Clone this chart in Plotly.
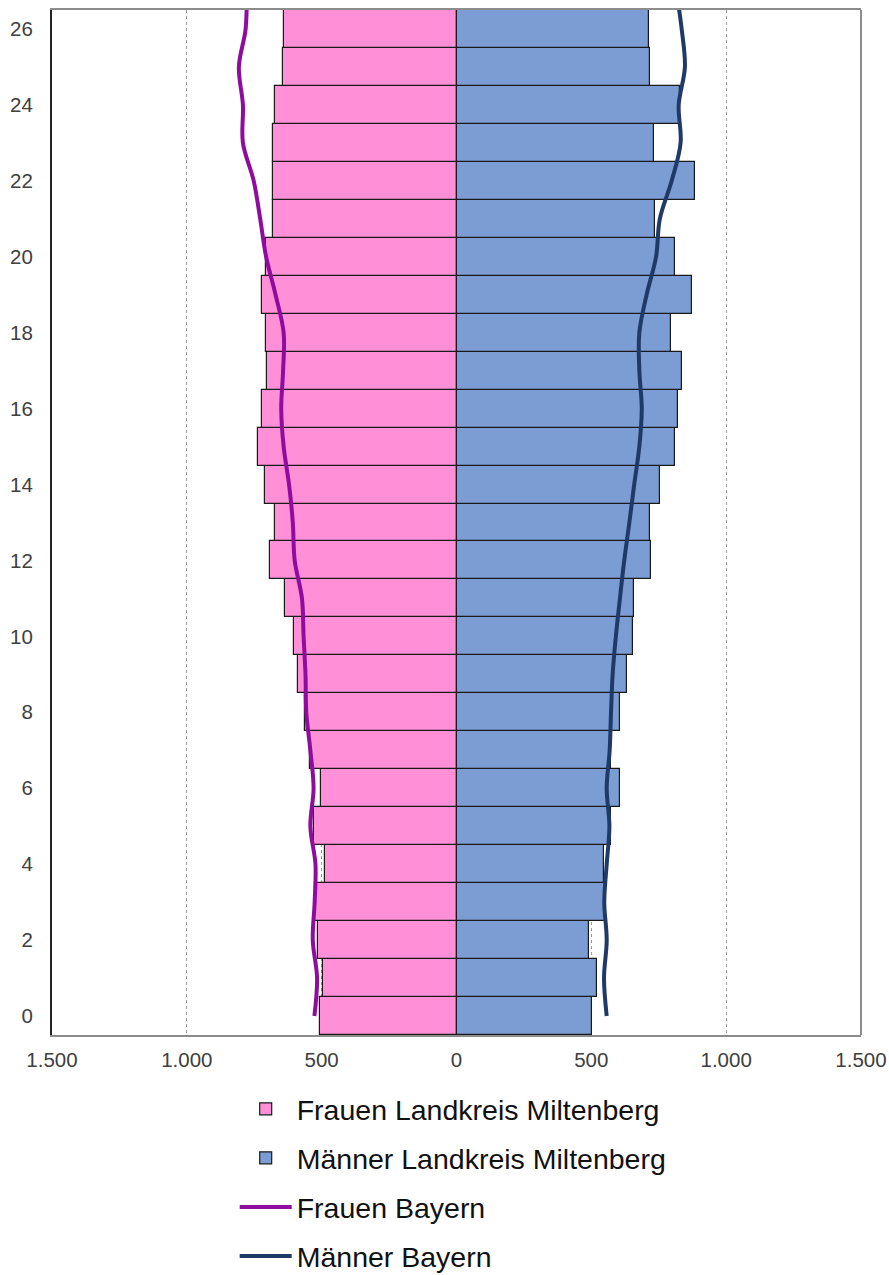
import plotly.graph_objects as go

ages = list(range(0, 27))
frauen_lk = [508, 495, 515, 526, 486, 530, 501, 544, 560, 589, 602, 636, 693, 674, 712,
             737, 722, 702, 707, 722, 708, 680, 679, 679, 674, 645, 641]
maenner_lk = [504, 522, 490, 553, 547, 574, 608, 572, 608, 632, 656, 659, 721, 716, 754,
              811, 821, 836, 796, 874, 811, 737, 883, 731, 829, 717, 712]

ages_by = list(range(0, 28))
frauen_by = [527, 517, 533, 526, 523, 542, 530, 542, 557, 560, 567, 573, 600, 607, 621,
             641, 650, 643, 641, 671, 706, 728, 752, 792, 792, 807, 782, 778]
maenner_by = [557, 547, 557, 548, 557, 567, 557, 568, 573, 579, 591, 606, 622, 641, 659,
              678, 687, 678, 678, 705, 740, 754, 798, 831, 824, 847, 835, 815]

x_tickvals = [-1500, -1000, -500, 0, 500, 1000, 1500]
x_ticktext = ["1.500", "1.000", "500", "0", "500", "1.000", "1.500"]
y_tickvals = list(range(0, 27, 2))

fig = go.Figure()
fig.add_trace(go.Bar(
    y=ages, x=[-v for v in frauen_lk], orientation="h", width=1,
    name="Frauen Landkreis Miltenberg", legendgroup="a",
    marker=dict(color="#FF90D8", line=dict(color="#1a1a1a", width=1.2)),
))
fig.add_trace(go.Bar(
    y=ages, x=maenner_lk, orientation="h", width=1,
    name="Männer Landkreis Miltenberg", legendgroup="b",
    marker=dict(color="#7C9CD4", line=dict(color="#1a1a1a", width=1.2)),
))
fig.add_trace(go.Scatter(
    y=ages_by, x=[-v for v in frauen_by], mode="lines",
    name="Frauen Bayern", legendgroup="c",
    line=dict(color="#900C9E", width=4, shape="spline", smoothing=1.0),
))
fig.add_trace(go.Scatter(
    y=ages_by, x=maenner_by, mode="lines",
    name="Männer Bayern", legendgroup="d",
    line=dict(color="#1F3A68", width=4, shape="spline", smoothing=1.0),
))

fig.update_layout(
    width=889, height=1275,
    margin=dict(l=52, r=28, t=10, b=240, autoexpand=False),
    paper_bgcolor="white", plot_bgcolor="white",
    barmode="overlay", bargap=0,
    font=dict(family="Liberation Sans, Arial, sans-serif", color="#404040", size=20),
    showlegend=True,
    legend=dict(
        xref="container", yref="container",
        x=0.264, y=0.150, xanchor="left", yanchor="top",
        font=dict(size=28.5, color="#111111"),
        tracegroupgap=9, itemwidth=52,
        bgcolor="rgba(0,0,0,0)",
    ),
    xaxis=dict(
        range=[-1500, 1500], tickvals=x_tickvals, ticktext=x_ticktext,
        showgrid=True, gridcolor="#9a9a9a", griddash="dot", gridwidth=1,
        zeroline=False, showline=True, linecolor="#8c8c8c", linewidth=2, mirror=True,
        ticks="", ticklabelstandoff=5, tickangle=0, ticklabeloverflow="allow",
        tickfont=dict(size=20.5, color="#404040"),
    ),
    yaxis=dict(
        range=[-0.5, 26.5], tickvals=y_tickvals,
        showgrid=False, zeroline=False,
        showline=True, linecolor="#222222", linewidth=2, mirror=False,
        ticks="", ticklabelstandoff=13, tickfont=dict(size=20.5, color="#404040"),
    ),
    shapes=[dict(type="line", xref="paper", yref="paper", x0=1, x1=1, y0=0, y1=1,
                 line=dict(color="#8c8c8c", width=2))],
)

fig.write_html("out.html", config={"displayModeBar": False},
               post_script="document.body.style.margin='0';")
